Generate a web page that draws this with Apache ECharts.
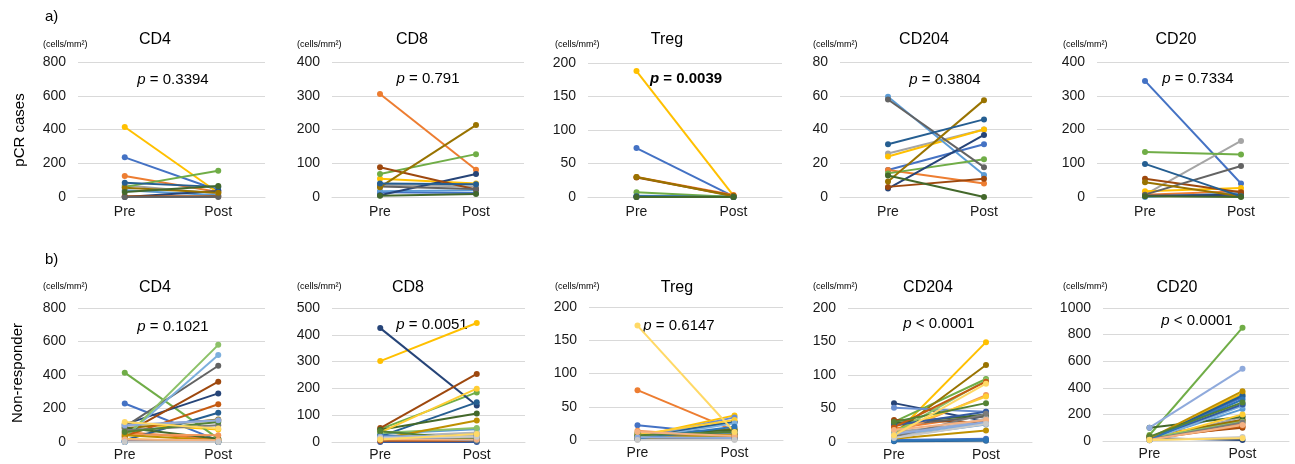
<!DOCTYPE html>
<html>
<head>
<meta charset="utf-8">
<script src="https://cdn.jsdelivr.net/npm/echarts@6/dist/echarts.min.js"></script>
<style>
  html, body { margin: 0; padding: 0; background: #fff; }
  #chart { width: 1295px; height: 464px; }
</style>
</head>
<body>
<div id="chart"></div>
<script>
// Paired immune-cell densities (cells/mm²) before and after treatment.
const categories = ['Pre', 'Post'];

// a) pCR cases
const pcrCD4Pre   = [235, 125, 70, 415, 40, 60, 0, 5, 0, 55, 85, 30];
const pcrCD4Post  = [40, 30, 20, 25, 10, 155, 35, 5, 0, 25, 60, 65];
const pcrCD8Pre   = [14, 305, 36, 54, 17, 68, 5, 88, 31, 29, 40, 4];
const pcrCD8Post  = [12, 81, 31, 40, 20, 127, 68, 22, 24, 213, 38, 9];
const pcrTregPre  = [73, 30, 1, 188, 2, 7, 0, 29, 0, 30, 1, 0];
const pcrTregPost = [1, 3, 0, 2, 1, 0, 0, 2, 0, 1, 0, 0];
const pcrCD204Pre  = [16, 16, 25.8, 24, 59.4, 14, 5, 6, 57.8, 9.2, 31.3, 12.8];
const pcrCD204Post = [31.3, 8, 40, 40, 13, 22.4, 36.8, 10.8, 17.7, 57.4, 46, 0];
const pcrCD20Pre  = [344, 7, 7, 17, 0, 133, 4, 54, 7, 44, 98, 2];
const pcrCD20Post = [40, 17, 166, 27, 12, 126, 7, 14, 92, 2, 2, 0];

// b) Non-responder
const nrCD4Pre   = [230, 60, 95, 110, 0, 414, 105, 50, 90, 80, 10, 85, 5, 45, 100, 20, 30, 25, 5, 35, 70, 40, 0, 60, 100, 15, 0, 120];
const nrCD4Post  = [10, 15, 130, 75, 5, 20, 290, 360, 455, 135, 175, 20, 0, 40, 125, 0, 520, 580, 0, 225, 100, 10, 0, 120, 130, 10, 0, 80];
const nrCD8Pre   = [15, 20, 25, 302, 31, 48, 425, 52, 20, 10, 21, 46, 15, 10, 20, 36, 5, 34, 0, 5, 10, 11, 25, 40, 20, 10, 15, 9];
const nrCD8Post  = [21, 10, 20, 444, 48, 185, 136, 254, 30, 25, 148, 106, 10, 5, 35, 199, 15, 52, 0, 5, 15, 80, 5, 9, 25, 8, 20, 30];
const nrTregPre  = [22, 75, 2, 5, 3, 11, 4, 6, 3, 5, 6, 9, 3, 14, 1, 8, 2, 4, 1, 2, 1, 3, 2, 7, 4, 12, 0, 172];
const nrTregPost = [8, 14, 1, 37, 10, 5, 27, 8, 13, 17, 27, 15, 34, 4, 1, 30, 25, 6, 3, 4, 2, 8, 20, 12, 3, 6, 0, 12];
const nrCD204Pre  = [3, 20, 15, 10, 8, 30, 58, 33, 25, 13, 1, 28, 51, 12, 6, 16, 11, 14, 25, 22, 8, 5, 2, 30, 12, 18, 6, 10];
const nrCD204Post = [5, 40, 30, 149, 26, 94, 31, 29, 38, 115, 2, 41, 45, 70, 35, 68, 28, 92, 45, 90, 42, 17, 3, 58, 30, 33, 27, 87];
const nrCD20Pre  = [5, 10, 8, 12, 15, 45, 20, 33, 20, 33, 12, 100, 8, 10, 5, 8, 8, 20, 20, 15, 10, 20, 8, 33, 100, 10, 5, 8];
const nrCD20Post = [330, 150, 180, 358, 240, 852, 8, 100, 160, 158, 342, 182, 280, 130, 270, 200, 265, 145, 275, 110, 140, 375, 312, 290, 543, 120, 30, 20];

// Office series palette, one colour per patient line
const PALETTE = ['#4472C4','#ED7D31','#A5A5A5','#FFC000','#5B9BD5','#70AD47','#264478','#9E480E',
  '#636363','#997300','#255E91','#43682B','#698ED0','#F1975A','#B7B7B7','#FFCD33','#7CAFDD','#8CC168',
  '#335AA1','#C55A11','#7B7B7B','#BF9000','#2E75B6','#548235','#8FAADC','#F4B183','#C9C9C9','#FFD966',
  '#9DC3E6','#A9D18E'];

const panels = [
  { name: 'CD4',   pre: pcrCD4Pre,   post: pcrCD4Post,   max: 800,  step: 200, p: '= 0.3394' },
  { name: 'CD8',   pre: pcrCD8Pre,   post: pcrCD8Post,   max: 400,  step: 100, p: '= 0.791' },
  { name: 'Treg',  pre: pcrTregPre,  post: pcrTregPost,  max: 200,  step: 50,  p: '= 0.0039', bold: true },
  { name: 'CD204', pre: pcrCD204Pre, post: pcrCD204Post, max: 80,   step: 20,  p: '= 0.3804' },
  { name: 'CD20',  pre: pcrCD20Pre,  post: pcrCD20Post,  max: 400,  step: 100, p: '= 0.7334' },
  { name: 'CD4',   pre: nrCD4Pre,    post: nrCD4Post,    max: 800,  step: 200, p: '= 0.1021' },
  { name: 'CD8',   pre: nrCD8Pre,    post: nrCD8Post,    max: 500,  step: 100, p: '= 0.0051' },
  { name: 'Treg',  pre: nrTregPre,   post: nrTregPost,   max: 200,  step: 50,  p: '= 0.6147' },
  { name: 'CD204', pre: nrCD204Pre,  post: nrCD204Post,  max: 200,  step: 50,  p: '< 0.0001' },
  { name: 'CD20',  pre: nrCD20Pre,   post: nrCD20Post,   max: 1000, step: 200, p: '< 0.0001' }
];

// Layout: plot boxes [left, right, top, height] and text anchors
const boxes = [
  [78, 265, 62, 135], [332, 524, 62, 135], [588, 782, 63, 134], [840, 1032, 62, 135], [1097, 1289, 62, 135],
  [78, 265, 308, 134], [332, 525, 308, 134], [589, 783, 307, 133], [848, 1032, 308, 134], [1103, 1289, 308, 133]
];
const titlePos = [[155, 40], [412, 40], [667, 40], [924, 40], [1176, 40],
                  [155, 288], [408, 288], [677, 288], [928, 288], [1177, 288]];
const unitPos  = [[43, 45], [297, 45], [555, 45], [813, 45], [1063, 45],
                  [43, 287], [297, 287], [555, 287], [813, 287], [1063, 287]];
const pPos     = [[173, 80], [428, 79], [686, 79], [945, 80], [1198, 79],
                  [173, 327], [432, 325], [679, 326], [939, 324], [1197, 321]];

const FONT = '"Liberation Sans", Arial, sans-serif';
const TXT = '#1a1a1a';

const grid = [], xAxis = [], yAxis = [], series = [], graphic = [];

panels.forEach((pn, k) => {
  const b = boxes[k];
  const bottomRow = k >= 5;
  grid.push({ left: b[0], top: b[2], width: b[1] - b[0], height: b[3], containLabel: false, outerBoundsMode: 'none' });
  xAxis.push({
    type: 'category', gridIndex: k, data: categories, boundaryGap: true,
    axisLine: { show: true, lineStyle: { color: '#D9D9D9', width: 1 } },
    axisTick: { show: false },
    axisLabel: { color: TXT, fontSize: 14, fontFamily: FONT, margin: bottomRow ? 6 : 8 }
  });
  yAxis.push({
    type: 'value', gridIndex: k, min: 0, max: pn.max, interval: pn.step,
    axisLine: { show: false }, axisTick: { show: false },
    axisLabel: { color: TXT, fontSize: 14, fontFamily: FONT, margin: 12, formatter: v => String(v) },
    splitLine: { show: true, lineStyle: { color: '#D9D9D9', width: 1 } }
  });
  pn.pre.forEach((v, i) => {
    const c = PALETTE[i % PALETTE.length];
    series.push({
      type: 'line', xAxisIndex: k, yAxisIndex: k,
      data: [v, pn.post[i]],
      symbol: 'circle', symbolSize: 6, showSymbol: true,
      lineStyle: { color: c, width: 2 }, itemStyle: { color: c },
      silent: true, animation: false
    });
  });

  graphic.push({
    type: 'text', x: titlePos[k][0], y: titlePos[k][1], silent: true,
    style: { text: pn.name, font: '16px ' + FONT, fill: '#000', align: 'center', verticalAlign: 'middle', textAlign: 'center', textVerticalAlign: 'middle' }
  });
  graphic.push({
    type: 'text', x: unitPos[k][0], y: unitPos[k][1], silent: true,
    style: { text: '(cells/mm²)', font: '9px ' + FONT, fill: '#000', align: 'left', verticalAlign: 'middle', textAlign: 'left', textVerticalAlign: 'middle' }
  });
  const w = pn.bold ? 'bold ' : '';
  graphic.push({
    type: 'text', x: pPos[k][0], y: pPos[k][1], silent: true,
    style: {
      text: '{i|p} ' + pn.p,
      font: w + '15px ' + FONT, fill: '#000',
      align: 'center', verticalAlign: 'middle', textAlign: 'center', textVerticalAlign: 'middle',
      rich: { i: { fontStyle: 'italic', fontWeight: pn.bold ? 'bold' : 'normal', fontSize: 15, fontFamily: FONT, fill: '#000', color: '#000' } }
    }
  });
});

// Section letters and row labels
graphic.push(
  { type: 'text', x: 45, y: 17, silent: true,
    style: { text: 'a)', font: '15px ' + FONT, fill: '#000', align: 'left', verticalAlign: 'middle', textAlign: 'left', textVerticalAlign: 'middle' } },
  { type: 'text', x: 45, y: 260, silent: true,
    style: { text: 'b)', font: '15px ' + FONT, fill: '#000', align: 'left', verticalAlign: 'middle', textAlign: 'left', textVerticalAlign: 'middle' } },
  { type: 'text', x: 20, y: 130, rotation: Math.PI / 2, silent: true,
    style: { text: 'pCR cases', font: '15px ' + FONT, fill: '#000', align: 'center', verticalAlign: 'middle', textAlign: 'center', textVerticalAlign: 'middle' } },
  { type: 'text', x: 18, y: 373, rotation: Math.PI / 2, silent: true,
    style: { text: 'Non-responder', font: '15px ' + FONT, fill: '#000', align: 'center', verticalAlign: 'middle', textAlign: 'center', textVerticalAlign: 'middle' } }
);

const chart = echarts.init(document.getElementById('chart'), null, { renderer: 'canvas' });
chart.setOption({
  animation: false,
  backgroundColor: '#fff',
  grid, xAxis, yAxis, series, graphic
});
</script>
</body>
</html>
